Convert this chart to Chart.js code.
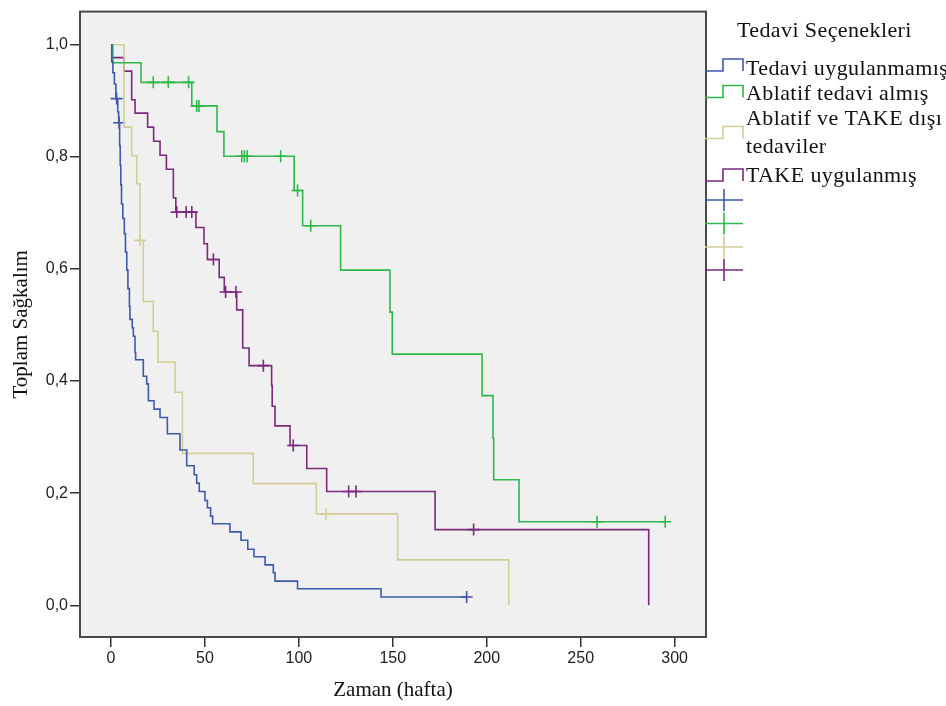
<!DOCTYPE html>
<html lang="tr">
<head>
<meta charset="utf-8">
<title>Toplam Sağkalım</title>
<script src="https://cdn.jsdelivr.net/npm/chart.js@4/dist/chart.umd.min.js"></script>
<style>
  html, body { margin: 0; padding: 0; background: #fff; }
  #wrap { width: 946px; height: 706px; }
</style>
</head>
<body>
<div id="wrap"><canvas id="kmChart" width="946" height="706"></canvas></div>
<script>
// Tedavi grupları (lejant sırası)
const groupNames = ['Tedavi uygulanmamış', 'Ablatif tedavi almış', ['Ablatif ve TAKE dışı', 'tedaviler'], 'TAKE uygulanmış'];
const groupColors = ['#3e58ac', '#2eb848', '#d3ce97', '#7c287d'];

// Kaplan-Meier basamakları: olay zamanı (hafta) ve o andan sonraki sağkalım
const noTreatTimes = [0, 0.4, 1.0, 1.8, 2.6, 3.6, 4.1, 4.6, 4.9, 5.2, 5.6, 6.3, 7.1, 7.7, 8.4, 9.0, 9.8, 10.1, 11.3, 11.9, 12.8, 13.1, 17.2, 19.0, 19.9, 22.9, 26.1, 30.0, 36.7, 40.3, 44.3, 45.6, 47.0, 50.0, 51.3, 53.0, 54.1, 63.3, 69.2, 72.8, 76.1, 82.0, 86.4, 87.3, 99.3, 143.7, 189.3];
const noTreatSurv  = [1.0, 0.97, 0.95, 0.93, 0.904, 0.88, 0.861, 0.82, 0.785, 0.75, 0.716, 0.69, 0.663, 0.63, 0.598, 0.565, 0.533, 0.51, 0.495, 0.48, 0.451, 0.438, 0.4085, 0.395, 0.365, 0.35, 0.335, 0.306, 0.277, 0.249, 0.233, 0.218, 0.203, 0.187, 0.174, 0.159, 0.1455, 0.131, 0.116, 0.100, 0.0866, 0.072, 0.058, 0.043, 0.0295, 0.0147, 0.0147];
const noTreatCensor = [3.0, 4.3, 189.3];

const ablativeTimes = [0, 0.9, 16.0, 43.0, 56.4, 60.1, 97.5, 102.0, 122.2, 148.5, 149.7, 197.5, 203.3, 203.7, 217.2, 295.0];
const ablativeSurv  = [1.0, 0.968, 0.933, 0.891, 0.845, 0.801, 0.740, 0.677, 0.598, 0.523, 0.448, 0.374, 0.298, 0.224, 0.149, 0.149];
const ablativeCensor = [22.5, 30.5, 41.3, 45.6, 46.8, 69.6, 71.0, 72.5, 90.3, 99.3, 106.3, 258.7, 295.0];

const otherTimes = [0, 6.9, 11.0, 13.7, 15.4, 17.2, 22.5, 25.0, 34.1, 38.0, 75.7, 109.3, 152.6, 211.7];
const otherSurv  = [1.0, 0.853, 0.802, 0.752, 0.651, 0.542, 0.489, 0.434, 0.380, 0.271, 0.217, 0.163, 0.081, 0.0];
const otherCensor = [15.4, 114.4];

const takeTimes = [0, 0.7, 6.9, 11.0, 12.8, 19.5, 22.7, 26.1, 29.5, 33.2, 34.5, 45.2, 49.5, 51.3, 57.6, 60.3, 66.9, 70.1, 73.5, 85.5, 85.8, 87.3, 95.3, 104.2, 114.8, 172.5, 286.2];
const takeSurv  = [1.0, 0.977, 0.953, 0.902, 0.878, 0.853, 0.828, 0.803, 0.778, 0.727, 0.7015, 0.674, 0.645, 0.617, 0.585, 0.559, 0.527, 0.459, 0.4275, 0.392, 0.355, 0.320, 0.285, 0.244, 0.203, 0.135, 0.0];
const takeCensor = [35.0, 40.0, 43.0, 54.5, 61.0, 66.5, 81.1, 97.0, 126.5, 130.4, 193.0];

const xTicks = [0, 50, 100, 150, 200, 250, 300];
const yTicks = [0, 0.2, 0.4, 0.6, 0.8, 1.0];

const curves = [
  [noTreatTimes, noTreatSurv, noTreatCensor],
  [ablativeTimes, ablativeSurv, ablativeCensor],
  [otherTimes, otherSurv, otherCensor],
  [takeTimes, takeSurv, takeCensor]
];

// sansürlü gözlem, eğrinin o andaki basamağının üzerine konur
function survAt(times, surv, t) {
  let s = surv[0];
  for (let i = 0; i < times.length; i++) {
    if (times[i] <= t) s = surv[i];
  }
  return s;
}

const datasets = [];
curves.forEach(([times, surv], i) => {
  datasets.push({
    type: 'line',
    data: times.map((t, k) => ({ x: t, y: surv[k] })),
    borderColor: groupColors[i],
    borderWidth: 1.6,
    stepped: 'before',
    pointRadius: 0,
    fill: false
  });
});
curves.forEach(([times, surv, cens], i) => {
  datasets.push({
    type: 'scatter',
    data: cens.map(t => ({ x: t, y: survAt(times, surv, t) })),
    pointStyle: 'cross',
    pointRadius: 6,
    borderColor: groupColors[i],
    borderWidth: 1.6
  });
});

const serif = '"Liberation Serif", "Times New Roman", serif';

// gri çizim alanı ve çerçeve
const plotBox = {
  id: 'plotBox',
  beforeDatasetsDraw(chart) {
    const { ctx, chartArea: a } = chart;
    ctx.save();
    ctx.fillStyle = '#f0f0f0';
    ctx.fillRect(a.left, a.top, a.right - a.left, a.bottom - a.top);
    ctx.restore();
  },
  afterDatasetsDraw(chart) {
    const { ctx, chartArea: a } = chart;
    ctx.save();
    ctx.strokeStyle = '#4a4a4a';
    ctx.lineWidth = 2;
    ctx.strokeRect(a.left, a.top, a.right - a.left, a.bottom - a.top);
    ctx.restore();
  }
};

// SPSS tarzı lejant: basamak simgeleri + sansür işaretleri
const kmLegend = {
  id: 'kmLegend',
  afterDraw(chart) {
    const ctx = chart.ctx;
    const x0 = 705, xMid = 723, x1 = 743, textX = 746;
    const rows = [
      { icon: 65, lines: [75] },
      { icon: 91.5, lines: [100] },
      { icon: 132.5, lines: [125, 153] },
      { icon: 175, lines: [182] }
    ];
    const crossY = [200, 223.5, 247, 270];
    ctx.save();
    ctx.fillStyle = '#111';
    ctx.font = '22px ' + serif;
    ctx.textBaseline = 'alphabetic';
    ctx.textAlign = 'left';
    ctx.letterSpacing = '0.4px';
    ctx.fillText('Tedavi Seçenekleri', 737, 37);
    ctx.lineWidth = 1.6;
    rows.forEach((r, i) => {
      ctx.strokeStyle = groupColors[i];
      ctx.beginPath();
      ctx.moveTo(x0, r.icon + 6);
      ctx.lineTo(xMid, r.icon + 6);
      ctx.lineTo(xMid, r.icon - 6);
      ctx.lineTo(x1, r.icon - 6);
      ctx.lineTo(x1, r.icon + 6);
      ctx.stroke();
      const label = [].concat(groupNames[i]);
      label.forEach((txt, k) => ctx.fillText(txt, textX, r.lines[k]));
    });
    crossY.forEach((y, i) => {
      ctx.strokeStyle = groupColors[i];
      ctx.beginPath();
      ctx.moveTo(x0, y);
      ctx.lineTo(x1, y);
      ctx.moveTo(724, y - 11);
      ctx.lineTo(724, y + 11);
      ctx.stroke();
    });
    ctx.restore();
  }
};

new Chart(document.getElementById('kmChart'), {
  data: { datasets },
  options: {
    responsive: false,
    animation: false,
    layout: { padding: { top: 6, right: 240, bottom: 0, left: 0 } },
    plugins: { legend: { display: false }, tooltip: { enabled: false } },
    scales: {
      x: {
        type: 'linear',
        min: -16.5,
        max: 316.7,
        afterBuildTicks: s => { s.ticks = xTicks.map(v => ({ value: v })); },
        afterFit: s => { s.height = 69; },
        border: { display: false },
        grid: { drawOnChartArea: false, drawTicks: true, tickLength: 10, color: '#333', lineWidth: 1.5 },
        ticks: { color: '#222', padding: 2, font: { family: '"Liberation Sans", Arial, sans-serif', size: 16 } },
        title: { display: true, text: 'Zaman (hafta)', color: '#111', padding: { top: 0, bottom: 3 }, font: { family: serif, size: 21 } }
      },
      y: {
        type: 'linear',
        min: -0.0566,
        max: 1.0592,
        afterBuildTicks: s => { s.ticks = yTicks.map(v => ({ value: v })); },
        afterFit: s => { s.width = 80; },
        border: { display: false },
        grid: { drawOnChartArea: false, drawTicks: true, tickLength: 10, color: '#333', lineWidth: 1.5 },
        ticks: {
          color: '#222',
          padding: 2,
          font: { family: '"Liberation Sans", Arial, sans-serif', size: 16 },
          callback: v => v.toFixed(1).replace('.', ',')
        },
        title: { display: true, text: 'Toplam Sağkalım', color: '#111', padding: { top: 9, bottom: 0 }, font: { family: serif, size: 21 } }
      }
    }
  },
  plugins: [plotBox, kmLegend]
});
</script>
</body>
</html>
